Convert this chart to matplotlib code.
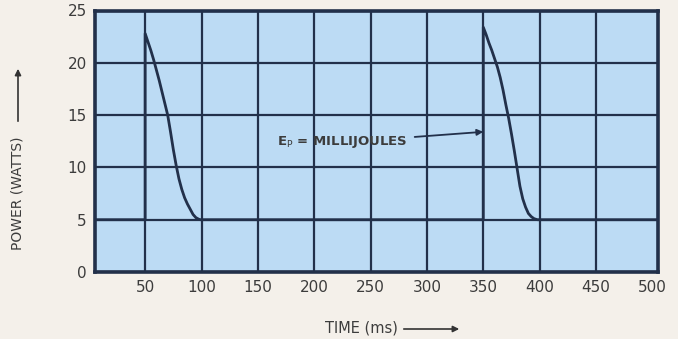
import matplotlib
matplotlib.use("Agg")
import matplotlib.pyplot as plt
from matplotlib.patches import FancyArrowPatch

# Data
time_ms = [5.5, 50, 50, 52.5, 55, 57.5, 60, 62.5, 65, 67.5, 70, 72.5, 75, 77.5, 80,
           82.5, 85, 87.5, 90, 92.5, 95, 97.5, 99,
           350, 350, 352.5, 355, 357.5, 360, 362.5, 365, 367.5, 370, 372.5, 375, 377.5,
           380, 382.5, 385, 387.5, 390, 392.5, 395, 398, 505]
power_w = [5, 5, 22.8, 22.0, 21.2, 20.3, 19.3, 18.3, 17.2, 16.1, 15.0, 13.4, 11.7, 10.2, 8.9,
           7.9, 7.1, 6.5, 6.0, 5.5, 5.2, 5.05, 5.0,
           5.0, 23.4, 22.7, 21.9, 21.2, 20.4, 19.6, 18.6, 17.4, 16.0, 14.7, 13.2, 11.6,
           9.9, 8.2, 7.0, 6.2, 5.6, 5.3, 5.1, 5.0, 5.0]
x_ticks = [50, 100, 150, 200, 250, 300, 350, 400, 450, 500]
y_ticks = [0, 5, 10, 15, 20, 25]

BG = "#f4f0ea"
FACE = "#bcdbf4"
INK = "#22304a"
TXT = "#3c3c3c"
FONT = "DejaVu Sans"

fig = plt.figure(figsize=(6.78, 3.39), dpi=100, facecolor=BG)
ax = fig.add_axes([95/678, 1-272/339, (658-95)/678, (272-10.5)/339])
ax.set_facecolor(FACE)
ax.set_xlim(5.5, 505)
ax.set_ylim(0, 25)
ax.set_xticks(x_ticks)
ax.set_yticks(y_ticks)
ax.grid(True, color=INK, linewidth=1.6)
ax.set_axisbelow(True)
ax.get_xgridlines()[-1].set_visible(False)
for s in ax.spines.values():
    s.set_color(INK)
    s.set_linewidth(2.6)
ax.tick_params(axis="x", length=0, pad=6, labelsize=11, colors=TXT)
ax.tick_params(axis="y", length=0, pad=6, labelsize=11, colors=TXT)
for lab in ax.get_xticklabels() + ax.get_yticklabels():
    lab.set_family(FONT)

ax.plot(time_ms, power_w, color=INK, linewidth=2.0, solid_joinstyle="round", zorder=3)

ax.annotate(r"E$_{\rm P}$ = MILLIJOULES", xy=(350, 13.4), xytext=(283, 12.4),
            ha="right", va="center", fontsize=9.5, color=TXT, family=FONT,
            fontweight="bold",
            arrowprops=dict(arrowstyle="-|>", color=INK, lw=1.3, mutation_scale=9,
                            shrinkA=3, shrinkB=0))

# Y label with arrow
fig.text(18/678, 1-193/339, "POWER (WATTS)", rotation=90, ha="center", va="center",
         fontsize=10, color=TXT, family=FONT)
fig.add_artist(FancyArrowPatch(
    (18/678, 1-124/339), (18/678, 1-66/339), transform=fig.transFigure,
    arrowstyle="-|>", mutation_scale=9, color="#333333", lw=1.2))

# X label with arrow
fig.text(361/678, 1-328/339, "TIME (ms)", ha="center", va="center",
         fontsize=10.5, color=TXT, family=FONT)
fig.add_artist(FancyArrowPatch(
    (401/678, 1-329/339), (462/678, 1-329/339), transform=fig.transFigure,
    arrowstyle="-|>", mutation_scale=9, color="#333333", lw=1.2))

fig.savefig("out.png", dpi=100, facecolor=BG)
